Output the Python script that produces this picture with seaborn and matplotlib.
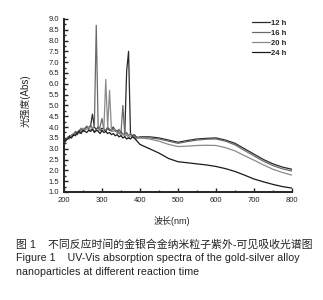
import matplotlib
matplotlib.use("Agg")
import matplotlib.pyplot as plt
import matplotlib.ticker as mticker
import seaborn as sns
import pandas as pd

# wavelengths (nm): 5 nm steps in the UV region, 25 nm steps after
wavelength = list(range(200, 401, 5)) + list(range(425, 801, 25))

abs_12h = [3.3, 3.45, 3.5, 3.6, 3.55, 3.7, 3.75, 3.65, 3.85, 3.9, 3.8, 3.95, 4.0, 3.9, 4.05, 4.6,
           4.0, 3.9, 4.0, 3.85, 3.95, 3.9, 3.8, 3.95, 3.85, 3.9, 4.0, 3.8, 3.85, 3.7, 3.8, 3.65,
           3.7, 6.6, 7.5, 3.7, 3.6, 3.65, 3.55, 3.5, 3.55,
           3.55, 3.5, 3.4, 3.3, 3.38, 3.45, 3.48, 3.5, 3.4, 3.25, 3.0, 2.75, 2.5, 2.3, 2.15, 2.05]
abs_16h = [3.2, 3.35, 3.55, 3.5, 3.65, 3.6, 3.8, 3.75, 3.7, 3.95, 3.85, 3.9, 4.05, 3.95, 4.1, 3.95,
           4.0, 8.7, 3.95, 4.0, 4.4, 3.9, 3.85, 4.0, 3.9, 3.8, 3.95, 3.85, 3.75, 3.9, 3.7, 5.0,
           3.65, 3.75, 3.6, 3.7, 3.55, 3.6, 3.5, 3.55, 3.5,
           3.5, 3.45, 3.35, 3.25, 3.33, 3.4, 3.44, 3.45, 3.35, 3.18, 2.92, 2.67, 2.42, 2.22, 2.07, 1.97]
abs_20h = [3.35, 3.4, 3.5, 3.45, 3.6, 3.7, 3.65, 3.8, 3.75, 3.8, 3.95, 3.85, 3.9, 4.0, 3.85, 3.95,
           3.8, 3.9, 3.85, 3.95, 3.8, 3.9, 6.2, 4.0, 5.7, 3.85, 3.8, 3.9, 3.7, 3.75, 3.6, 3.7,
           3.55, 3.65, 3.5, 3.6, 3.55, 3.5, 3.45, 3.5, 3.5,
           3.45, 3.35, 3.2, 3.1, 3.12, 3.15, 3.16, 3.15, 3.05, 2.9, 2.68, 2.47, 2.25, 2.05, 1.9, 1.78]
abs_24h = [3.3, 3.4, 3.45, 3.55, 3.5, 3.65, 3.6, 3.75, 3.8, 3.7, 3.85, 3.8, 3.75, 3.85, 3.8, 3.9,
           3.75, 3.85, 3.8, 3.7, 3.85, 3.75, 3.8, 3.7, 3.75, 3.65, 3.7, 3.6, 3.65, 3.55, 3.6, 3.5,
           3.55, 3.45, 3.5, 3.45, 3.55, 3.5, 3.4, 3.3, 3.2,
           3.0, 2.8, 2.55, 2.4, 2.35, 2.3, 2.25, 2.18, 2.08, 1.95, 1.78, 1.6, 1.47, 1.35, 1.25, 1.18]

labels = ["12 h", "16 h", "20 h", "24 h"]
colors = ["#2a2a2a", "#6a6a6a", "#8a8a8a", "#1a1a1a"]

df = pd.concat([
    pd.DataFrame({"wl": wavelength, "abs": vals, "time": lab})
    for lab, vals in zip(labels, [abs_12h, abs_16h, abs_20h, abs_24h])
])

sns.set_style("ticks")
plt.rcParams["font.family"] = ["Liberation Sans", "Noto Sans CJK SC", "DejaVu Sans"]

fig = plt.figure(figsize=(3.23, 3.0), dpi=100)
ax = fig.add_axes([0.198, 0.36, 0.706, 0.577])
sns.lineplot(data=df, x="wl", y="abs", hue="time", palette=colors,
             linewidth=0.9, ax=ax, sort=True, estimator=None)

ax.set_xlim(200, 800)
ax.set_ylim(1.0, 9.0)
ax.xaxis.set_major_locator(mticker.MultipleLocator(100))
ax.xaxis.set_minor_locator(mticker.MultipleLocator(50))
ax.yaxis.set_major_locator(mticker.MultipleLocator(0.5))
ax.yaxis.set_minor_locator(mticker.MultipleLocator(0.25))
ax.yaxis.set_major_formatter(mticker.FormatStrFormatter("%.1f"))
ax.tick_params(which="both", direction="in", labelsize=5.5, colors="#222222", width=1.0)
ax.tick_params(which="major", length=3)
ax.tick_params(which="minor", length=1.5)
for s in ["top", "right"]:
    ax.spines[s].set_visible(False)
for s in ["left", "bottom"]:
    ax.spines[s].set_linewidth(1.4)
ax.set_xlabel("波长(nm)", fontsize=6.5)
ax.set_ylabel("光强度(Abs)", fontsize=7)
ax.xaxis.set_label_coords(0.474, -0.14)
ax.yaxis.set_label_coords(-0.145, 0.53)

ax.legend(loc="upper left", bbox_to_anchor=(0.77, 0.945), bbox_transform=fig.transFigure,
          frameon=False, fontsize=5.5, handlelength=2.4, handletextpad=0.1,
          labelspacing=0.35, borderaxespad=0)
for t in ax.get_legend().get_texts():
    t.set_fontweight("bold")

fig.text(0.05, 0.187, "图 1    不同反应时间的金银合金纳米粒子紫外-可见吸收光谱图",
         fontsize=7.8, color="#222222", va="center")
fig.text(0.05, 0.14, "Figure 1    UV-Vis absorption spectra of the gold-silver alloy",
         fontsize=7.7, color="#222222", va="center")
fig.text(0.05, 0.093, "nanoparticles at different reaction time",
         fontsize=7.7, color="#222222", va="center")

fig.savefig("out.png", dpi=100)
